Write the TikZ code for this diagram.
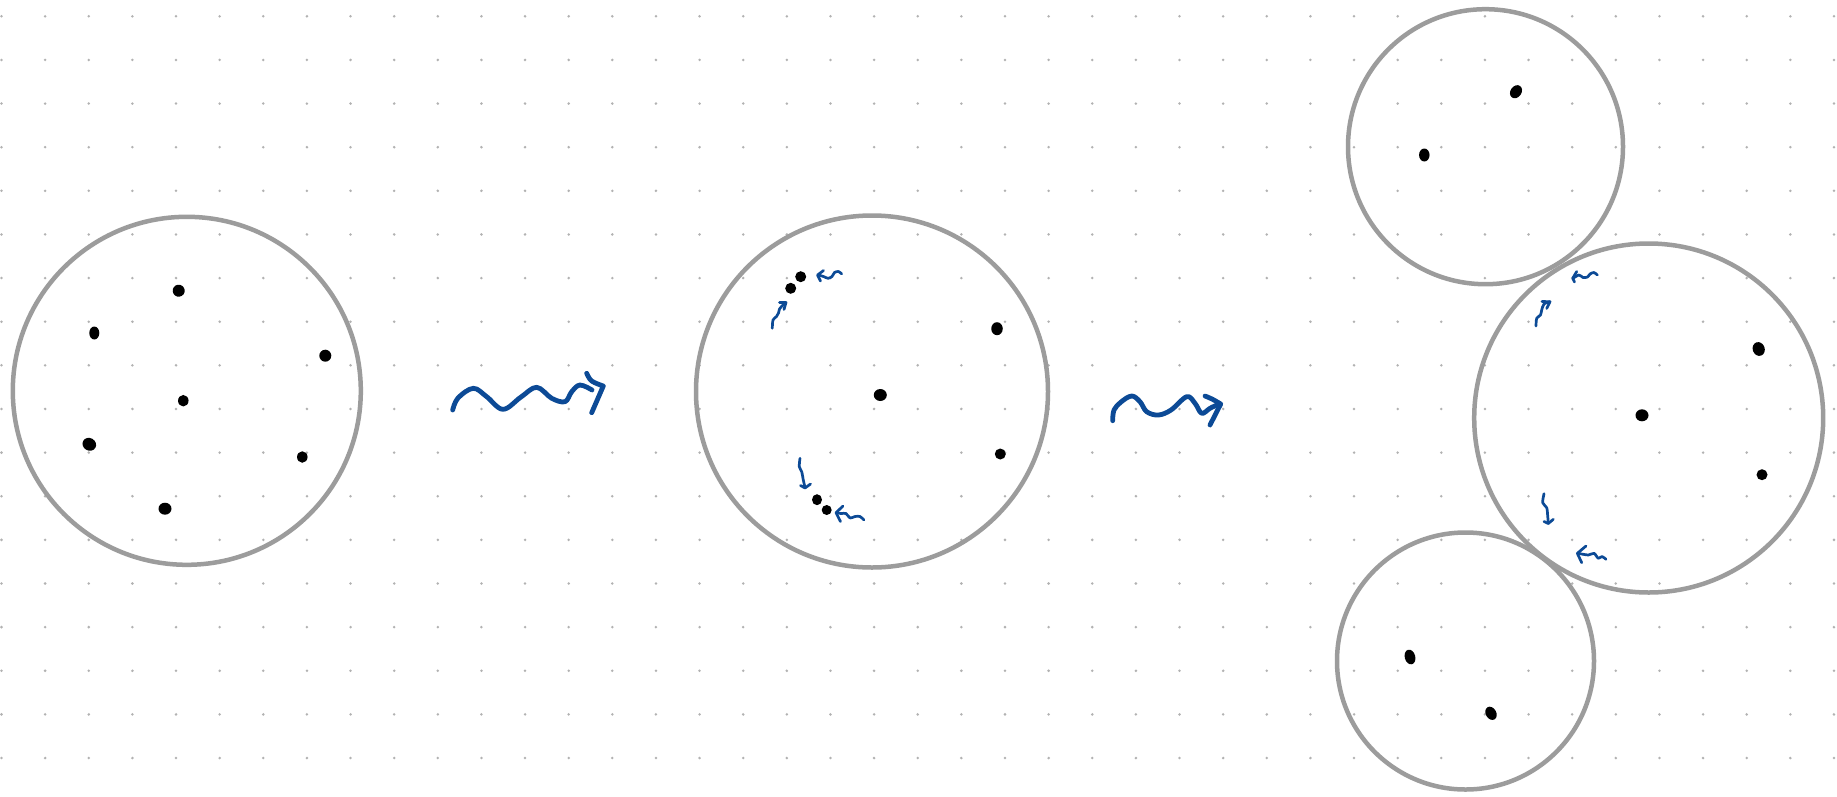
\documentclass[tikz,border=0pt]{standalone}
\usetikzlibrary{shapes.geometric}
\definecolor{ink}{RGB}{12,74,150}
\definecolor{rim}{RGB}{156,156,156}
\definecolor{griddot}{RGB}{178,178,178}
\begin{document}
\begin{tikzpicture}[x=1pt,y=-1pt,
  region/.style={circle,draw=rim,line width=4.5pt,inner sep=0pt,minimum size=#1},
  pt/.style={ellipse,fill=black,inner sep=0pt,minimum width=10.5pt,minimum height=11.5pt},
  bigsquig/.style={draw=ink,line width=4.8pt,line cap=round,line join=round},
  smallsquig/.style={draw=ink,line width=2.7pt,line cap=round,line join=round}]
\useasboundingbox (0,0) rectangle (1837,796);
\fill[white] (0,0) rectangle (1837,796);
% dot grid
\foreach \i in {0,...,42} \foreach \j in {0,...,17}
  \fill[griddot] (1.5+43.63*\i,16.3+43.63*\j) circle (1.4);

% circles
\node[region=348pt] (c1) at (186.8,390.8) {};
\node[region=352pt] (c2) at (872,391.5) {};
\node[region=275pt] (c3) at (1485.5,146.7) {};
\node[region=349pt] (c4) at (1648.7,418) {};
\node[region=257pt] (c5) at (1465.5,661) {};

% points, circle 1
\node[pt,minimum width=12pt,minimum height=12pt,rotate=30] (p11) at (178.7,290.7) {};
\node[pt,minimum width=10pt,minimum height=13pt] (p12) at (94.3,333) {};
\node[pt,minimum width=12pt,minimum height=12pt] (p13) at (325.3,355.7) {};
\node[pt,minimum width=10.5pt,minimum height=11.5pt] (p14) at (183.3,400.7) {};
\node[pt,minimum width=14pt,minimum height=12.5pt,rotate=-30] (p15) at (89.3,444.3) {};
\node[pt,minimum width=10.5pt,minimum height=11.5pt] (p16) at (302.3,457) {};
\node[pt,minimum width=13pt,minimum height=12pt] (p17) at (165,508.7) {};

% points, circle 2
\node[pt,minimum width=11pt,minimum height=11pt] (p21) at (800.7,276.7) {};
\node[pt,minimum width=11pt,minimum height=11pt] (p22) at (790.7,288.3) {};
\node[pt,minimum width=11.5pt,minimum height=13pt] (p23) at (997,328.7) {};
\node[pt,minimum width=13pt,minimum height=12pt] (p24) at (880.3,395) {};
\node[pt,minimum width=11pt,minimum height=11pt] (p25) at (1000.3,454) {};
\node[pt,minimum width=10pt,minimum height=11pt] (p26) at (817,499.7) {};
\node[pt,minimum width=10pt,minimum height=10pt] (p27) at (826.7,510) {};

% points, circles 3, 4, 5
\node[pt,minimum width=11pt,minimum height=14pt,rotate=-35] (p31) at (1516,91.7) {};
\node[pt,minimum width=10.5pt,minimum height=13pt] (p32) at (1424.3,155) {};
\node[pt,minimum width=12pt,minimum height=14pt,rotate=20] (p41) at (1758.7,349) {};
\node[pt,minimum width=13pt,minimum height=12pt] (p42) at (1642,415.3) {};
\node[pt,minimum width=11pt,minimum height=11pt] (p43) at (1762,474.7) {};
\node[pt,minimum width=10.5pt,minimum height=15pt,rotate=15] (p51) at (1410,657) {};
\node[pt,minimum width=10.5pt,minimum height=14pt,rotate=30] (p52) at (1491,713.3) {};

% big squiggly arrows
\draw[bigsquig] plot[smooth,tension=0.6] coordinates {(452.7,410) (458,398) (473.3,388.3) (486.7,396.7) (503,409.3) (521,397) (536.7,387.3) (551.7,398.3) (565,401.7) (571.7,391.7) (580,385) (592,390)};
\draw[bigsquig] plot[smooth,tension=0.6] coordinates {(586.7,373.3) (591.7,381) (603.3,386)} -- (591.7,412.7);

\draw[bigsquig] plot[smooth,tension=0.6] coordinates {(1112.7,420.7) (1114,410) (1121,402) (1131.7,396) (1140,401.7) (1146.7,411.7) (1158.3,415) (1171,410) (1186.7,396.7) (1195,403.3) (1201.7,413.3) (1210,408.3) (1219,404)};
\draw[bigsquig] plot[smooth,tension=0.6] coordinates {(1205,396) (1212,399) (1220.7,404)} -- (1210,425);

% small arrows, circle 2
\draw[smallsquig] plot[smooth] coordinates {(841.7,274) (838.5,271.5) (834.5,272.5) (832,276.5) (828,278.3) (823.5,276.5) (818.5,275)};
\draw[smallsquig] (823.5,270.5) -- (817.5,275) -- (820.5,281);
\draw[smallsquig] plot[smooth] coordinates {(772.3,328.3) (773,320) (776.5,316.5) (778.5,313) (779.5,309) (783,305) (786,302.7)};
\draw[smallsquig] (779.5,302.5) -- (786,302.5) -- (784,309.5);
\draw[smallsquig] plot[smooth] coordinates {(800,458.3) (799.3,466.7) (801.7,471.7) (803.3,480) (805,487.5)};
\draw[smallsquig] (800.5,485.5) -- (805,488) -- (810.5,484);
\draw[smallsquig] plot[smooth] coordinates {(864,520) (860,516.5) (855,516.5) (850,518) (846,513.5) (841,513.5) (836.5,512.7)};
\draw[smallsquig] (843,506) -- (836,512.7) -- (840.5,521.5);

% small arrows, circle 4
\draw[smallsquig] plot[smooth] coordinates {(1597.3,275) (1594,272.5) (1590,274) (1587.5,277) (1583,277.5) (1579,275) (1573.5,278)};
\draw[smallsquig] (1576.7,271.5) -- (1572.7,278.3) -- (1574.5,282);
\draw[smallsquig] plot[smooth] coordinates {(1536,326) (1536.7,318.3) (1540.5,315) (1541.7,310) (1544,304) (1550,301.7)};
\draw[smallsquig] (1542,301.5) -- (1550,301.7) -- (1546.7,308.5);
\draw[smallsquig] plot[smooth] coordinates {(1544,493.7) (1542.7,502.7) (1546.7,507.7) (1547.7,516) (1548.3,523.3)};
\draw[smallsquig] (1544,521.5) -- (1548.3,523.5) -- (1553.3,519.3);
\draw[smallsquig] plot[smooth] coordinates {(1606,559.3) (1602,556.5) (1598.3,558.3) (1594,553.3) (1588.3,555) (1578,553.3)};
\draw[smallsquig] (1586,546) -- (1577.3,553.3) -- (1581.7,562.7);
\end{tikzpicture}
\end{document}
